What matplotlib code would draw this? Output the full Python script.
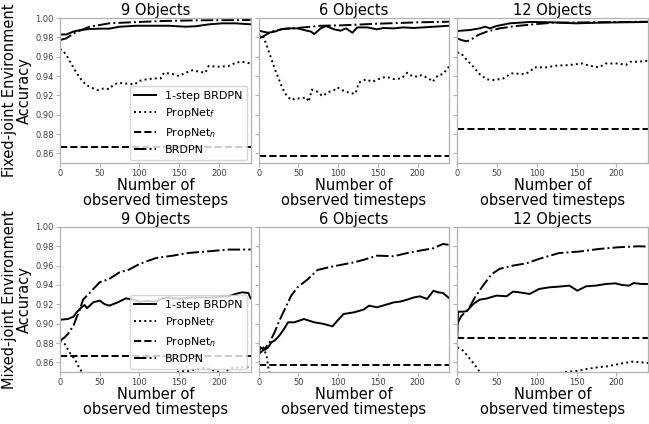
#!/usr/bin/env python3
"""Accuracy vs. observed timesteps for fixed- and mixed-joint environments."""

import matplotlib

matplotlib.use("Agg")
import matplotlib.pyplot as plt


TITLES = ["9 Objects", "6 Objects", "12 Objects"]
ROW_LABELS = ["Fixed-joint Environment\nAccuracy", "Mixed-joint Environment\nAccuracy"]
LABELS = ["1-step BRDPN", "PropNet$_f$", "PropNet$_n$", "BRDPN"]

# (timestep, accuracy) pairs
FIXED_9_STEP = [(0, 0.983), (8, 0.983), (17, 0.986), (25, 0.9875), (37, 0.9886), (50, 0.989),
                (62, 0.989), (75, 0.991), (96, 0.992), (121, 0.992), (137, 0.992), (158, 0.991),
                (171, 0.9915), (187, 0.9934), (204, 0.9945), (221, 0.9945), (240, 0.9935)]
FIXED_9_PROPF = [(0, 0.968), (4, 0.966), (8, 0.9617), (14, 0.953), (21, 0.943), (27, 0.936),
                 (33, 0.9307), (42, 0.9272), (48, 0.9255), (54, 0.927), (62, 0.9266), (67, 0.9307),
                 (73, 0.933), (79, 0.9325), (87, 0.932), (94, 0.9314), (100, 0.935), (108, 0.9365),
                 (119, 0.9376), (127, 0.9376), (131, 0.9434), (142, 0.942), (150, 0.940),
                 (158, 0.9434), (167, 0.946), (175, 0.9445), (183, 0.9435), (187, 0.9503),
                 (200, 0.9497), (212, 0.9503), (221, 0.9538), (229, 0.9548), (240, 0.953)]
FIXED_9_BRDPN = [(0, 0.9772), (8, 0.979), (17, 0.984), (25, 0.9869), (37, 0.991), (50, 0.9928),
                 (62, 0.9945), (87, 0.9955), (129, 0.9969), (171, 0.9976), (240, 0.998)]

FIXED_6_STEP = [(0, 0.9869), (12, 0.9848), (20, 0.9859), (28, 0.9883), (37, 0.9893), (49, 0.9893),
                (57, 0.9876), (66, 0.9859), (70, 0.9834), (78, 0.9893), (85, 0.9917), (95, 0.9883),
                (103, 0.9869), (110, 0.9893), (118, 0.9848), (124, 0.9903), (137, 0.9903),
                (149, 0.9883), (157, 0.9897), (170, 0.9893), (182, 0.9903), (195, 0.9897),
                (207, 0.9903), (220, 0.991), (240, 0.992)]
FIXED_6_PROPF = [(0, 0.9814), (5, 0.9824), (10, 0.972), (15, 0.960), (20, 0.948), (25, 0.9376),
                 (30, 0.9272), (35, 0.920), (41, 0.9152), (47, 0.9169), (53, 0.9169), (60, 0.918),
                 (63, 0.9134), (67, 0.926), (74, 0.9238), (80, 0.9193), (89, 0.9238), (95, 0.9255),
                 (99, 0.9283), (105, 0.9255), (116, 0.922), (122, 0.922), (126, 0.9331),
                 (135, 0.9366), (143, 0.9341), (151, 0.9369), (160, 0.9393), (170, 0.9369),
                 (180, 0.9376), (187, 0.9434), (193, 0.940), (201, 0.9393), (205, 0.941),
                 (214, 0.9376), (219, 0.9341), (226, 0.941), (232, 0.942), (240, 0.9503)]
FIXED_6_BRDPN = [(0, 0.979), (5, 0.9807), (16, 0.9859), (30, 0.9886), (49, 0.9897), (78, 0.992),
                 (103, 0.9924), (149, 0.9941), (199, 0.9955), (240, 0.9962)]

FIXED_12_STEP = [(0, 0.9866), (16, 0.9876), (28, 0.9893), (35, 0.991), (41, 0.9893), (49, 0.9917),
                 (66, 0.9945), (91, 0.9959), (120, 0.9955), (149, 0.9945), (178, 0.9952),
                 (203, 0.9955), (240, 0.9959)]
FIXED_12_PROPF = [(0, 0.9641), (4, 0.9641), (12, 0.9566), (20, 0.9497), (28, 0.942), (37, 0.9366),
                  (45, 0.9359), (57, 0.9372), (68, 0.9428), (85, 0.942), (91, 0.9445), (97, 0.949),
                  (112, 0.949), (124, 0.9507), (141, 0.9514), (157, 0.953), (166, 0.9507),
                  (178, 0.949), (187, 0.953), (203, 0.953), (212, 0.9514), (218, 0.9548),
                  (228, 0.9548), (240, 0.9559)]
FIXED_12_BRDPN = [(0, 0.979), (5, 0.9772), (12, 0.9759), (18, 0.978), (26, 0.9824), (37, 0.9859),
                  (53, 0.9893), (74, 0.9917), (95, 0.9934), (120, 0.9952), (162, 0.9955),
                  (240, 0.9962)]

MIXED_9_STEP = [(0, 0.9041), (10, 0.9048), (17, 0.9072), (21, 0.9117), (27, 0.9169), (31, 0.9193),
                (34, 0.9159), (42, 0.9221), (50, 0.9238), (56, 0.9203), (62, 0.9186), (73, 0.9221),
                (83, 0.9262), (92, 0.9248), (100, 0.9228), (110, 0.9234), (121, 0.9228),
                (129, 0.9262), (137, 0.9272), (150, 0.9255), (162, 0.9269), (175, 0.9272),
                (187, 0.9269), (200, 0.9276), (212, 0.9283), (221, 0.9307), (229, 0.9324),
                (237, 0.9317), (240, 0.9262)]
MIXED_9_PROPF = [(0, 0.8824), (6, 0.879), (12, 0.8703), (19, 0.8628), (25, 0.8531), (31, 0.8462),
                 (40, 0.842), (60, 0.838), (80, 0.837), (100, 0.838), (120, 0.842), (140, 0.848),
                 (150, 0.8507), (162, 0.851), (175, 0.8535), (183, 0.8545), (194, 0.8514),
                 (205, 0.849), (215, 0.854), (225, 0.855), (240, 0.855)]
MIXED_9_BRDPN = [(0, 0.8824), (6, 0.8859), (10, 0.8893), (17, 0.898), (21, 0.9066), (25, 0.9145),
                 (29, 0.9248), (35, 0.9297), (42, 0.9359), (50, 0.9428), (62, 0.9462), (75, 0.9531),
                 (87, 0.9559), (100, 0.9617), (121, 0.9679), (142, 0.9703), (162, 0.9731),
                 (187, 0.9748), (212, 0.9766), (240, 0.9766)]

MIXED_6_STEP = [(0, 0.866), (2, 0.8755), (5, 0.874), (8, 0.873), (12, 0.8755), (16, 0.8807),
                (20, 0.8824), (26, 0.8876), (32, 0.8945), (37, 0.9014), (45, 0.9014), (57, 0.9048),
                (70, 0.9014), (82, 0.8997), (93, 0.8972), (99, 0.903), (107, 0.910), (120, 0.9117),
                (132, 0.9145), (139, 0.9186), (149, 0.9169), (162, 0.920), (170, 0.922),
                (178, 0.9228), (187, 0.9248), (195, 0.927), (203, 0.9283), (212, 0.9255),
                (220, 0.934), (226, 0.9324), (232, 0.9317), (240, 0.9262)]
MIXED_6_PROPF = [(0, 0.8755), (5, 0.877), (10, 0.8669), (12.5, 0.853), (15, 0.845), (20, 0.836)]
MIXED_6_BRDPN = [(0, 0.8686), (7.5, 0.8738), (14, 0.881), (20, 0.891), (26, 0.903), (32, 0.9134),
                 (41, 0.929), (49, 0.9376), (62, 0.946), (74, 0.9555), (87, 0.958), (103, 0.9607),
                 (120, 0.9634), (132, 0.966), (149, 0.9703), (170, 0.9697), (187, 0.973),
                 (203, 0.9755), (220, 0.978), (232, 0.9824), (240, 0.9814)]

MIXED_12_STEP = [(0, 0.8859), (0.5, 0.9014), (1, 0.9124), (8, 0.9124), (12, 0.913), (20, 0.9203),
                 (28, 0.9248), (37, 0.926), (49, 0.929), (62, 0.9283), (70, 0.9331), (78, 0.9324),
                 (91, 0.9307), (103, 0.9359), (116, 0.9376), (128, 0.9383), (141, 0.9393),
                 (151, 0.9341), (162, 0.9386), (174, 0.9393), (187, 0.941), (199, 0.9417),
                 (207, 0.940), (216, 0.9393), (222, 0.942), (232, 0.941), (240, 0.941)]
MIXED_12_PROPF = [(0, 0.8755), (7.5, 0.872), (16, 0.8634), (24, 0.855), (30, 0.848), (50, 0.840),
                  (80, 0.838), (110, 0.843), (132, 0.8497), (153, 0.8514), (162, 0.853),
                  (178, 0.855), (190, 0.856), (203, 0.8583), (220, 0.8607), (232, 0.860),
                  (240, 0.8593)]
MIXED_12_BRDPN = [(0, 0.900), (5, 0.908), (14, 0.915), (22, 0.927), (32, 0.939), (43, 0.951),
                  (53, 0.9566), (70, 0.960), (87, 0.9624), (103, 0.967), (128, 0.973),
                  (153, 0.9745), (178, 0.9772), (203, 0.979), (228, 0.980), (240, 0.9797)]

PROPNET_N_FIXED = [0.867, 0.857, 0.885]
PROPNET_N_MIXED = [0.867, 0.857, 0.885]


def unzip(pairs):
    return [p[0] for p in pairs], [p[1] for p in pairs]


def main() -> None:
    rows = [
        [(FIXED_9_STEP, FIXED_9_PROPF, FIXED_9_BRDPN),
         (FIXED_6_STEP, FIXED_6_PROPF, FIXED_6_BRDPN),
         (FIXED_12_STEP, FIXED_12_PROPF, FIXED_12_BRDPN)],
        [(MIXED_9_STEP, MIXED_9_PROPF, MIXED_9_BRDPN),
         (MIXED_6_STEP, MIXED_6_PROPF, MIXED_6_BRDPN),
         (MIXED_12_STEP, MIXED_12_PROPF, MIXED_12_BRDPN)],
    ]
    propnet_n = [PROPNET_N_FIXED, PROPNET_N_MIXED]

    figure, axes = plt.subplots(2, 3, figsize=(6.49, 4.24), dpi=100, sharey=True)
    figure.subplots_adjust(left=0.0924, right=0.9985, top=0.9575, bottom=0.1226,
                           wspace=0.042, hspace=0.44)

    for r in range(2):
        for c in range(3):
            axis = axes[r, c]
            step, propf, brdpn = rows[r][c]
            lw = 1.4
            axis.plot(*unzip(step), color="black", linestyle="-", linewidth=lw, label=LABELS[0])
            axis.plot(*unzip(propf), color="black", linestyle=":", linewidth=lw, label=LABELS[1])
            axis.axhline(propnet_n[r][c], color="black", linestyle="--", linewidth=lw,
                         label=LABELS[2])
            axis.plot(*unzip(brdpn), color="black", linestyle="-.", linewidth=lw, label=LABELS[3])

            axis.set_xlim(0, 240)
            axis.set_ylim(0.85, 1.0)
            axis.set_xticks([0, 50, 100, 150, 200])
            axis.set_yticks([0.86, 0.88, 0.90, 0.92, 0.94, 0.96, 0.98, 1.00])
            axis.tick_params(labelsize=6, length=3, color="0.7", labelcolor="0.25", pad=1.5)
            for spine in axis.spines.values():
                spine.set_color("0.7")
                spine.set_linewidth(0.9)
            axis.set_title(TITLES[c], fontsize=10.5, pad=2)
            axis.set_xlabel("Number of\nobserved timesteps", fontsize=10.5, labelpad=0,
                            linespacing=1.0)
            if c == 0:
                axis.set_ylabel(ROW_LABELS[r], fontsize=10.5, labelpad=2, linespacing=1.0)
                axis.legend(loc="lower right", fontsize=8, borderaxespad=0.3,
                            handlelength=2.0, framealpha=0.8)

    figure.savefig("out.png", dpi=100)
    plt.close(figure)


if __name__ == "__main__":
    main()
